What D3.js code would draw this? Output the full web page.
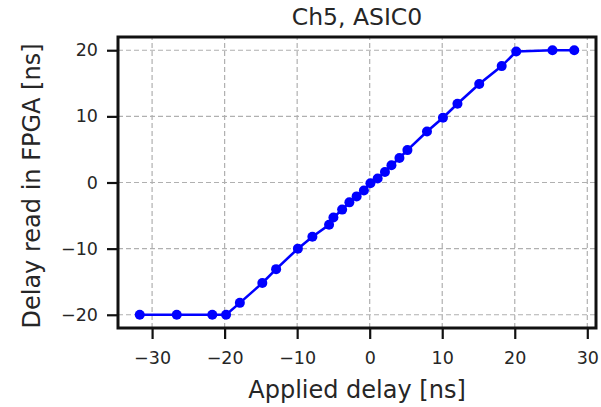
<!DOCTYPE html>
<html>
<head>
<meta charset="utf-8">
<script src="https://cdn.jsdelivr.net/npm/d3@7"></script>
<style>
  body { margin: 0; background: #fff; }
  svg { font-family: "DejaVu Sans", sans-serif; }
</style>
</head>
<body>
<div id="chart"></div>
<script>
// applied delay (x) vs delay read in FPGA (y), ns
const appliedDelay = [-31.7, -26.6, -21.7, -19.8, -17.9, -14.8, -12.9, -9.9, -7.9, -5.6,
  -5.0, -3.8, -2.8, -1.8, -0.8, 0.1, 1.1, 2.1, 3.0, 4.1, 5.2, 7.9, 10.1, 12.1, 15.1,
  18.2, 20.2, 25.2, 28.2];
const readDelay = [-20, -20, -20, -20, -18.2, -15.2, -13.1, -10.0, -8.2, -6.4,
  -5.3, -4.1, -3.0, -2.1, -1.2, -0.1, 0.6, 1.6, 2.6, 3.7, 4.9, 7.7, 9.8, 11.9, 14.9,
  17.6, 19.8, 20, 20];
const xTicks = [-30, -20, -10, 0, 10, 20, 30];
const yTicks = [-20, -10, 0, 10, 20];

const width = 601, height = 407;
const margin = {top: 37, right: 5, bottom: 79, left: 118};

const svg = d3.select("#chart").append("svg")
  .attr("width", width).attr("height", height);

const x = d3.scaleLinear().domain([-34.7, 31.2]).range([margin.left, width - margin.right]);
const y = d3.scaleLinear().domain([-22, 22]).range([height - margin.bottom, margin.top]);

const data = appliedDelay.map((d, i) => ({x: d, y: readDelay[i]}));
const fmt = d => d < 0 ? "\u2212" + Math.abs(d) : String(d);

// grid
const grid = svg.append("g").attr("stroke", "#b0b0b0").attr("stroke-width", 1.2)
  .attr("stroke-dasharray", "5,3");
grid.selectAll(".gx").data(xTicks).join("line")
  .attr("x1", d => x(d)).attr("x2", d => x(d))
  .attr("y1", y.range()[0]).attr("y2", y.range()[1]);
grid.selectAll(".gy").data(yTicks).join("line")
  .attr("y1", d => y(d)).attr("y2", d => y(d))
  .attr("x1", x.range()[0]).attr("x2", x.range()[1]);

// axes
const xMinor = d3.range(-34, 32, 2).filter(d => !xTicks.includes(d));
const yMinor = d3.range(-22, 23, 2).filter(d => !yTicks.includes(d));

const xAxis = svg.append("g").attr("transform", `translate(0,${y.range()[0]})`);
xAxis.call(d3.axisBottom(x).tickValues(xMinor).tickSize(6).tickFormat(""));
xAxis.call(d3.axisBottom(x).tickValues(xTicks).tickSize(11).tickPadding(13).tickFormat(fmt));

const yAxis = svg.append("g").attr("transform", `translate(${x.range()[0]},0)`);
yAxis.call(d3.axisLeft(y).tickValues(yMinor).tickSize(6).tickFormat(""));
yAxis.call(d3.axisLeft(y).tickValues(yTicks).tickSize(11).tickPadding(9).tickFormat(fmt));

svg.selectAll(".domain").remove();
svg.selectAll(".tick line").attr("stroke", "#111").attr("stroke-width", 2.2);
svg.selectAll(".tick text").attr("fill", "#262626")
  .style("font-size", "17.5px").style("font-family", "DejaVu Sans");

// frame
svg.append("rect")
  .attr("x", x.range()[0]).attr("y", y.range()[1])
  .attr("width", x.range()[1] - x.range()[0])
  .attr("height", y.range()[0] - y.range()[1])
  .attr("fill", "none").attr("stroke", "#111").attr("stroke-width", 3);

// line + markers
svg.append("path").datum(data)
  .attr("fill", "none").attr("stroke", "#0000ff").attr("stroke-width", 2.6)
  .attr("d", d3.line().x(d => x(d.x)).y(d => y(d.y)));
svg.append("g").selectAll("circle").data(data).join("circle")
  .attr("cx", d => x(d.x)).attr("cy", d => y(d.y)).attr("r", 5)
  .attr("fill", "#0000ff");

// labels
svg.append("text").attr("x", 357).attr("y", 25).attr("text-anchor", "middle")
  .attr("fill", "#262626").style("font-size", "23.5px").text("Ch5, ASIC0");
svg.append("text").attr("x", 357).attr("y", 398).attr("text-anchor", "middle")
  .attr("fill", "#262626").style("font-size", "24px").text("Applied delay [ns]");
svg.append("text").attr("transform", "translate(40,186) rotate(-90)")
  .attr("text-anchor", "middle").attr("fill", "#262626").style("font-size", "24px")
  .text("Delay read in FPGA [ns]");
</script>
</body>
</html>
